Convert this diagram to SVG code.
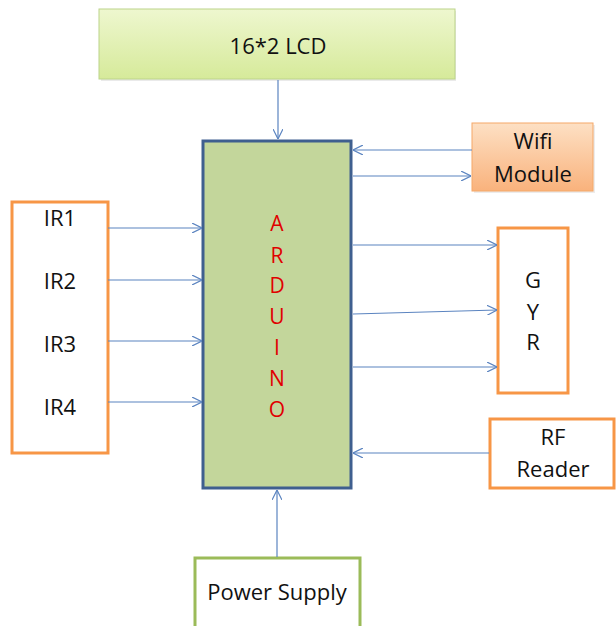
<svg xmlns="http://www.w3.org/2000/svg" width="616" height="626" viewBox="0 0 616 626">
<defs>
<linearGradient id="gLcd" x1="0" y1="0" x2="0" y2="1"><stop offset="0" stop-color="#eef7cf"/><stop offset="1" stop-color="#d6ea9a"/></linearGradient>
<linearGradient id="gWifi" x1="0" y1="0" x2="0" y2="1"><stop offset="0" stop-color="#fde0c4"/><stop offset="1" stop-color="#f9b27c"/></linearGradient>
<marker id="arr" viewBox="0 0 10 10" refX="10" refY="5" markerWidth="10" markerHeight="10" markerUnits="userSpaceOnUse" orient="auto">
<path d="M0,0 L10,5 L0,10" fill="none" stroke="#5b84c0" stroke-width="1.2"/>
</marker>
</defs>
<style>
text{font-family:"Open Sans","Liberation Sans",Arial,sans-serif;font-size:22px;fill:#111;text-anchor:middle}
.ora{fill:#fff;stroke:#f79646;stroke-width:3}
.red{fill:#e00000;font-size:21px}
.c line{stroke:#5b84c0;stroke-width:1.2;marker-end:url(#arr)}
</style>
<rect width="616" height="626" fill="#fff"/>
<g id="lcd">
<rect x="101" y="11" width="355" height="70" fill="#dcdcdc" opacity="0.6"/>
<rect x="99" y="9" width="356" height="70" fill="url(#gLcd)" stroke="#bcd48a" stroke-width="1"/>
<text x="278" y="54">16*2 LCD</text>
</g>
<g id="arduino">
<rect x="203" y="141" width="148" height="347" fill="#c3d69b" stroke="#3f5f8f" stroke-width="3"/>
<text class="red" x="277" y="231">A</text>
<text class="red" x="277" y="263">R</text>
<text class="red" x="277" y="293">D</text>
<text class="red" x="277" y="324">U</text>
<text class="red" x="277" y="355">I</text>
<text class="red" x="277" y="386">N</text>
<text class="red" x="277" y="417">O</text>
</g>
<g id="wifi">
<rect x="474" y="125" width="121" height="68" fill="#e0e0e0" opacity="0.6"/>
<rect x="472" y="123" width="121" height="68" fill="url(#gWifi)" stroke="#f5a868" stroke-width="1"/>
<text x="533" y="149">Wifi</text>
<text x="533" y="182">Module</text>
</g>
<g id="ir">
<rect class="ora" x="12" y="202" width="96" height="251"/>
<text x="60" y="226">IR1</text>
<text x="60" y="289">IR2</text>
<text x="60" y="352">IR3</text>
<text x="60" y="415">IR4</text>
</g>
<g id="gyr">
<rect class="ora" x="498" y="228" width="70" height="165"/>
<text x="533" y="288">G</text>
<text x="533" y="320">Y</text>
<text x="533" y="350">R</text>
</g>
<g id="rf">
<rect class="ora" x="490" y="419" width="124" height="69"/>
<text x="553" y="445">RF</text>
<text x="553" y="477">Reader</text>
</g>
<g id="power">
<rect x="195" y="558" width="165" height="80" fill="#fff" stroke="#9bbb59" stroke-width="3"/>
<text x="277" y="600">Power Supply</text>
</g>
<g id="connectors" class="c">
<line x1="278" y1="80" x2="278" y2="139"/>
<line x1="472" y1="150" x2="353" y2="150"/>
<line x1="353" y1="176" x2="471" y2="176"/>
<line x1="108" y1="228" x2="202" y2="228"/>
<line x1="108" y1="280" x2="202" y2="280"/>
<line x1="108" y1="341" x2="202" y2="341"/>
<line x1="108" y1="402" x2="202" y2="402"/>
<line x1="353" y1="245" x2="497" y2="245"/>
<line x1="353" y1="314" x2="497" y2="310"/>
<line x1="353" y1="367" x2="497" y2="367"/>
<line x1="489" y1="453" x2="353" y2="453"/>
<line x1="277" y1="557" x2="277" y2="490"/>
</g>
</svg>
